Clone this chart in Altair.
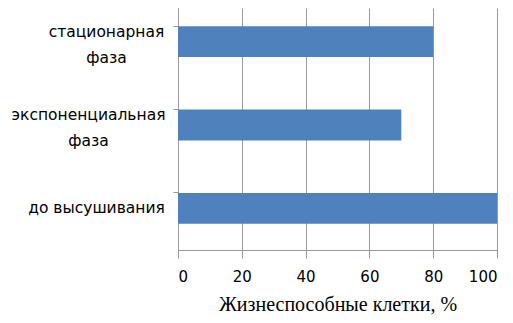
import altair as alt
import pandas as pd

categories = ["стационарная фаза", "экспоненциальная фаза", "до высушивания"]
values = [80, 70, 100]
x_ticks = [0, 20, 40, 60, 80, 100]

df = pd.DataFrame({"cat": categories, "val": values})

label_expr = (
    "datum.value == 'стационарная фаза' ? ['стационарная', 'фаза'] : "
    "datum.value == 'экспоненциальная фаза' ? ['экспоненциальная', 'фаза'] : datum.value"
)

grid_color = "#9a9a9a"

label_padding = {
    "condition": [
        {"test": "datum.value == 'стационарная фаза'", "value": 67},
        {"test": "datum.value == 'экспоненциальная фаза'", "value": 85},
    ],
    "value": 77,
}
label_offset = {
    "condition": {"test": "indexof(datum.value, 'фаза') >= 0", "value": -10},
    "value": 0,
}

chart = alt.Chart(df).mark_bar(color="#4F81BD").encode(
    x=alt.X(
        "val:Q",
        scale=alt.Scale(domain=[0, 100], nice=False),
        axis=alt.Axis(
            values=x_ticks,
            title="Жизнеспособные клетки, %",
            titleFont="Liberation Serif",
            titleFontSize=20,
            titleFontWeight="normal",
            titleColor="#000000",
            titlePadding=10,
            labelFont="DejaVu Sans",
            labelFontSize=15,
            labelColor="#000000",
            labelPadding=14,
            tickSize=5,
            tickColor=grid_color,
            domainColor=grid_color,
            grid=True,
            gridColor=grid_color,
            gridWidth=1,
        ),
    ),
    y=alt.Y(
        "cat:N",
        sort=categories,
        scale=alt.Scale(range=[-8, 242], paddingInner=0.63, paddingOuter=0.315),
        axis=alt.Axis(
            title=None,
            labelExpr=label_expr,
            labelFont="DejaVu Sans",
            labelFontSize=15.5,
            labelColor="#000000",
            labelLineHeight=26,
            labelPadding=label_padding,
            labelOffset=label_offset,
            labelAlign="center",
            bandPosition=0,
            tickSize=5,
            tickColor=grid_color,
            domainColor=grid_color,
            grid=False,
            labelLimit=300,
        ),
    ),
).properties(
    width=319,
    height=242,
    autosize=alt.AutoSizeParams(type="none"),
    padding={"left": 170, "top": 0, "right": 8, "bottom": 65},
).configure_view(stroke=None)

chart.save("out.html", embed_options={"renderer": "svg", "actions": False})
